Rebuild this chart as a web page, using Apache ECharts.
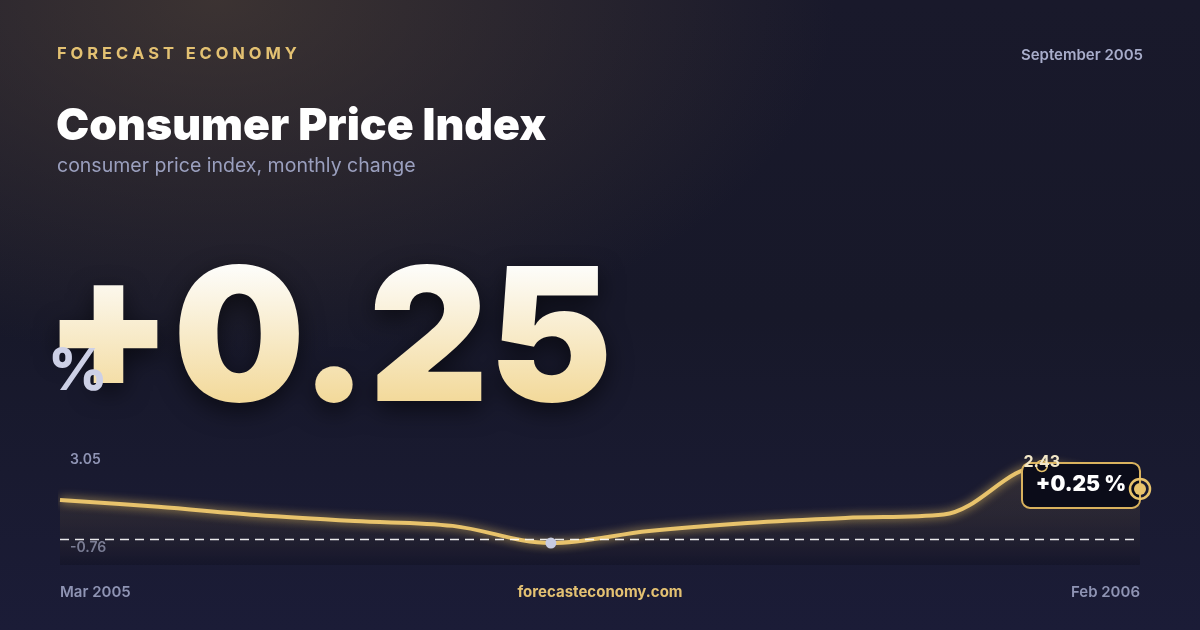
<!DOCTYPE html>
<html>
<head>
<meta charset="utf-8">
<script src="https://cdn.jsdelivr.net/npm/echarts@6/dist/echarts.min.js"></script>
<style>
  html, body { margin: 0; padding: 0; }
  body {
    width: 1200px; height: 630px; overflow: hidden; position: relative;
    background:
      radial-gradient(ellipse 620px 360px at 18% 0%, rgba(88,72,56,0.55), rgba(40,36,50,0) 100%),
      linear-gradient(180deg, #19192b 0%, #171829 50%, #1b1c37 100%);
  }
  #chart { width: 1200px; height: 630px; }
  .big {
    position: absolute; left: 44px; top: 241px; margin: 0;
    font: 900 186px/1 Inter, sans-serif; white-space: nowrap;
    background: linear-gradient(180deg, #fdfcf8 15%, #f3da9c 85%);
    -webkit-background-clip: text; background-clip: text; color: transparent;
    filter: drop-shadow(0 8px 12px rgba(0,0,0,0.55));
  }
  .pct {
    position: absolute; left: 48px; top: 340px; margin: 0;
    font: 800 58px/1 Inter, sans-serif; color: #cdd0e6;
  }
</style>
</head>
<body>
<div id="chart"></div>
<div class="big" id="big"></div>
<div class="pct">%</div>
<script>
// monthly data, Mar 2005 .. Feb 2006
var months = ['Mar 2005', 'Apr 2005', 'May 2005', 'Jun 2005', 'Jul 2005', 'Aug 2005',
              'Sep 2005', 'Oct 2005', 'Nov 2005', 'Dec 2005', 'Jan 2006', 'Feb 2006'];
var values = [1.02, 0.74, 0.40, 0.15, -0.05, -0.76, -0.26, 0.07, 0.28, 0.42, 2.43, 1.48];
var rangeLabels = ['3.05', '-0.76'];
var refLine = -0.59;
var latest = '+0.25';

document.getElementById('big').textContent = latest;

var gold = '#e8c36c';
var chart = echarts.init(document.getElementById('chart'));

var option = {
  backgroundColor: 'transparent',
  animation: false,
  grid: { left: 60, right: 60, top: 451, bottom: 65 },
  xAxis: {
    type: 'category',
    data: months,
    boundaryGap: false,
    axisLine: { show: false },
    axisTick: { show: false },
    splitLine: { show: false },
    axisLabel: {
      margin: 20,
      color: '#8f94b4',
      fontFamily: 'Inter',
      fontWeight: 600,
      fontSize: 15,
      alignMinLabel: 'left',
      alignMaxLabel: 'right',
      interval: function (i) { return i === 0 || i === months.length - 1; }
    }
  },
  yAxis: {
    type: 'value',
    min: -1.67,
    max: 3.05,
    show: false
  },
  series: [{
    type: 'line',
    data: values,
    smooth: 0.35,
    symbol: 'none',
    lineStyle: {
      color: gold, width: 4,
      shadowBlur: 10, shadowColor: 'rgba(240,200,100,0.85)'
    },
    areaStyle: {
      origin: 'start',
      color: new echarts.graphic.LinearGradient(0, 0, 0, 1, [
        { offset: 0, color: 'rgba(215,175,95,0.17)' },
        { offset: 1, color: 'rgba(8,8,18,0.35)' }
      ])
    },
    markLine: {
      silent: true,
      symbol: 'none',
      label: { show: false },
      lineStyle: { color: 'rgba(255,255,255,0.9)', type: [9, 6], width: 1.3 },
      data: [{ yAxis: refLine }]
    },
    markPoint: {
      silent: true,
      data: [
        {
          type: 'min', symbol: 'circle', symbolSize: 11,
          itemStyle: { color: '#c7cbe2' },
          label: { show: false }
        }
      ]
    }
  }]
};
chart.setOption(option);

var maxIdx = values.indexOf(Math.max.apply(null, values));
var peak = chart.convertToPixel({ gridIndex: 0 }, [maxIdx, values[maxIdx]]);
var last = chart.convertToPixel({ gridIndex: 0 }, [months.length - 1, values[values.length - 1]]);
var yTop = chart.convertToPixel({ gridIndex: 0 }, [0, 3.05])[1];
var yMin = chart.convertToPixel({ gridIndex: 0 }, [0, -0.76])[1];

chart.setOption({
  graphic: [
    // header
    { type: 'text', left: 57, top: 46, style: {
        text: 'F O R E C A S T   E C O N O M Y', fill: '#e3c172',
        font: '700 16.5px Inter' } },
    { type: 'text', right: 57, top: 48, style: {
        text: 'September 2005', fill: '#a8adca', font: '600 15px Inter' } },
    { type: 'text', left: 56, top: 104, style: {
        text: 'Consumer Price Index', fill: '#ffffff', font: '900 44.5px Inter' } },
    { type: 'text', left: 57, top: 156, style: {
        text: 'consumer price index, monthly change', fill: '#9a9fbe', font: '400 19.5px Inter' } },
    // range labels
    { type: 'text', left: 70, top: yTop + 2, style: {
        text: rangeLabels[0], fill: '#9095b5', font: '600 14px Inter' } },
    { type: 'text', left: 70, top: yMin - 2, style: {
        text: rangeLabels[1], fill: '#9095b5', font: '600 14px Inter' } },
    // latest value callout
    { type: 'rect', z: 20, shape: { x: last[0] - 118, y: last[1] - 26, width: 118, height: 45, r: 8 },
      style: { fill: '#0b0c19', stroke: '#d9b25e', lineWidth: 2 } },
    { type: 'text', z: 21, x: last[0] - 59, y: last[1] - 4, style: {
        text: latest + ' %', fill: '#ffffff', font: '900 21px Inter',
        align: 'center', verticalAlign: 'middle' } },
    { type: 'circle', z: 22, shape: { cx: last[0], cy: last[1], r: 10 },
      style: { fill: 'none', stroke: gold, lineWidth: 2.5 } },
    { type: 'circle', z: 23, shape: { cx: last[0], cy: last[1], r: 6 },
      style: { fill: gold } },
    // peak marker and label
    { type: 'circle', z: 24, shape: { cx: peak[0], cy: peak[1], r: 5.5 },
      style: { fill: 'none', stroke: gold, lineWidth: 1.5 } },
    { type: 'text', z: 25, x: peak[0], y: peak[1] - 4, style: {
        text: values[maxIdx].toFixed(2), fill: '#f2e7c8', font: '700 16px Inter',
        align: 'center', verticalAlign: 'middle' } },
    // footer
    { type: 'text', left: 'center', top: 585, style: {
        text: 'forecasteconomy.com', fill: '#e3c172', font: '700 15px Inter' } }
  ]
});
</script>
</body>
</html>
